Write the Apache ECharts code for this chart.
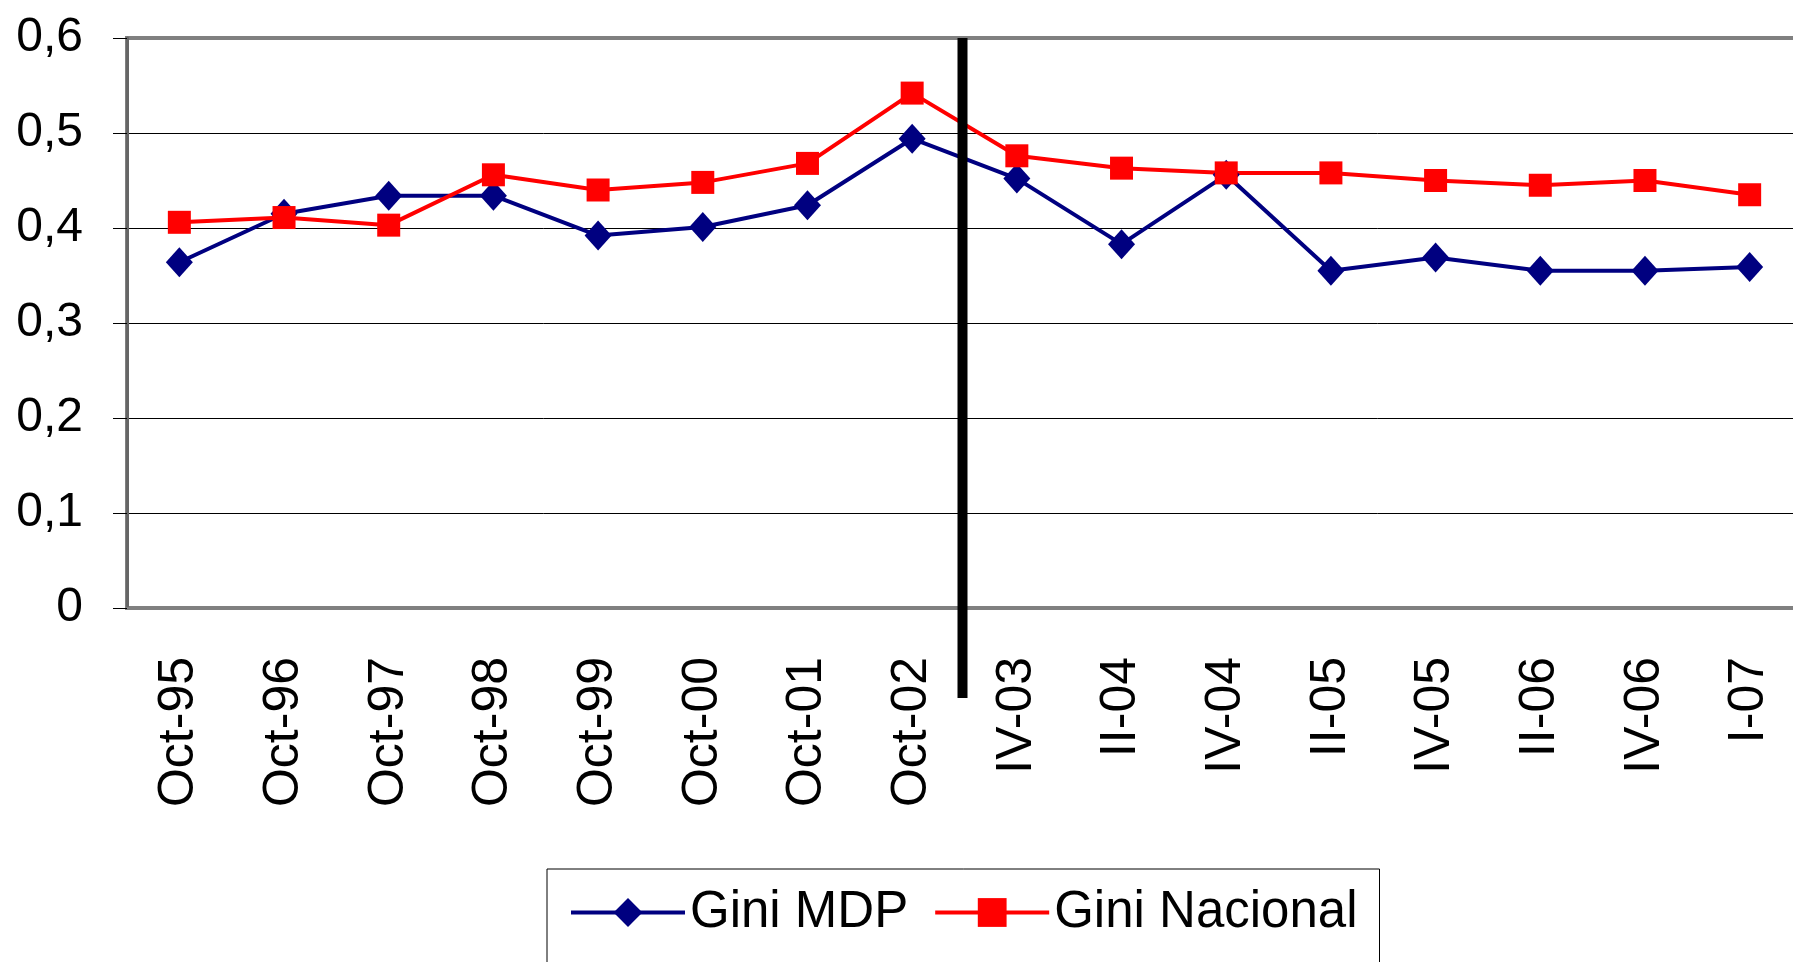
<!DOCTYPE html>
<html>
<head>
<meta charset="utf-8">
<title>Gini MDP vs Gini Nacional</title>
<script src="https://cdn.jsdelivr.net/npm/echarts/dist/echarts.min.js"></script>
<style>
  html, body {
    margin: 0;
    padding: 0;
    background: #fff;
  }
  #chart {
    width: 1793px;
    height: 962px;
  }
</style>
</head>
<body>
<div id="chart"></div>
<script>
// periodos (octubre anual, luego trimestres)
const periods = ['Oct-95', 'Oct-96', 'Oct-97', 'Oct-98', 'Oct-99', 'Oct-00', 'Oct-01', 'Oct-02',
  'IV-03', 'II-04', 'IV-04', 'II-05', 'IV-05', 'II-06', 'IV-06', 'I-07']
const giniMdp = [0.364, 0.415, 0.434, 0.434, 0.392, 0.401, 0.424, 0.494,
  0.452, 0.383, 0.456, 0.355, 0.369, 0.355, 0.355, 0.359]
const giniNacional = [0.406, 0.411, 0.403, 0.456, 0.440, 0.448, 0.468, 0.542,
  0.476, 0.463, 0.458, 0.458, 0.450, 0.445, 0.450, 0.435]
const seriesNames = ['Gini MDP', 'Gini Nacional']
// el corte de metodologia va entre Oct-02 y IV-03
const breakAfter = 'Oct-02'

const font = 'Liberation Sans, Arial, sans-serif'
const chart = echarts.init(document.getElementById('chart'))

const option = {
  animation: false,
  backgroundColor: '#fff',
  textStyle: { fontFamily: font, color: '#000' },
  // el area de trazado sigue mas alla del borde derecho de la imagen
  grid: {
    left: 127,
    top: 38,
    width: 1675,
    bottom: 354,
    outerBoundsMode: 'none',
    containLabel: false,
    show: true,
    borderColor: '#808080',
    borderWidth: 4
  },
  legend: {
    left: 547,
    top: 869,
    data: seriesNames,
    orient: 'horizontal',
    padding: [18, 22, 30, 22],
    itemGap: 25,
    itemWidth: 114,
    itemHeight: 36,
    lineStyle: { width: 4 },
    borderColor: '#000',
    borderWidth: 1,
    textStyle: { fontFamily: font, fontSize: 51, color: '#000' }
  },
  xAxis: {
    type: 'category',
    data: periods,
    boundaryGap: true,
    axisLine: { lineStyle: { color: '#808080', width: 3 } },
    axisTick: { length: 18, lineStyle: { color: '#808080', width: 1.5 } },
    axisLabel: {
      rotate: 90,
      margin: 49,
      fontSize: 50,
      color: '#000',
      fontFamily: font,
      interval: 0
    },
    splitLine: { show: false }
  },
  yAxis: {
    type: 'value',
    min: 0,
    max: 0.6,
    interval: 0.1,
    axisLine: { show: true, lineStyle: { color: '#666', width: 3 } },
    axisTick: { show: true, length: 14, lineStyle: { color: '#000', width: 1 } },
    axisLabel: {
      margin: 44,
      fontSize: 48,
      color: '#000',
      fontFamily: font,
      formatter: function (v) {
        return v === 0 ? '0' : v.toFixed(1).replace('.', ',')
      }
    },
    splitLine: {
      show: true,
      lineStyle: { color: ['#808080', '#000', '#000', '#000', '#000', '#000', '#808080'], width: 1 }
    }
  },
  series: [
    {
      name: seriesNames[0],
      type: 'line',
      data: giniMdp,
      symbol: 'diamond',
      symbolSize: [27, 30],
      lineStyle: { color: '#000080', width: 4 },
      itemStyle: { color: '#000080' }
    },
    {
      name: seriesNames[1],
      type: 'line',
      data: giniNacional,
      symbol: 'rect',
      symbolSize: 23,
      lineStyle: { color: '#ff0000', width: 4 },
      itemStyle: { color: '#ff0000' }
    }
  ]
}

chart.setOption(option)

// linea negra vertical del corte, ubicada con la escala del eje
const i = periods.indexOf(breakAfter)
const xa = chart.convertToPixel({ xAxisIndex: 0 }, periods[i])
const xb = chart.convertToPixel({ xAxisIndex: 0 }, periods[i + 1])
const yTop = chart.convertToPixel({ yAxisIndex: 0 }, 0.6)
const yZero = chart.convertToPixel({ yAxisIndex: 0 }, 0)
chart.setOption({
  graphic: [{
    type: 'line',
    z: 100,
    shape: { x1: (xa + xb) / 2 - 2, y1: yTop, x2: (xa + xb) / 2 - 2, y2: yZero + 90 },
    style: { stroke: '#000', lineWidth: 10 }
  }]
})
</script>
</body>
</html>
